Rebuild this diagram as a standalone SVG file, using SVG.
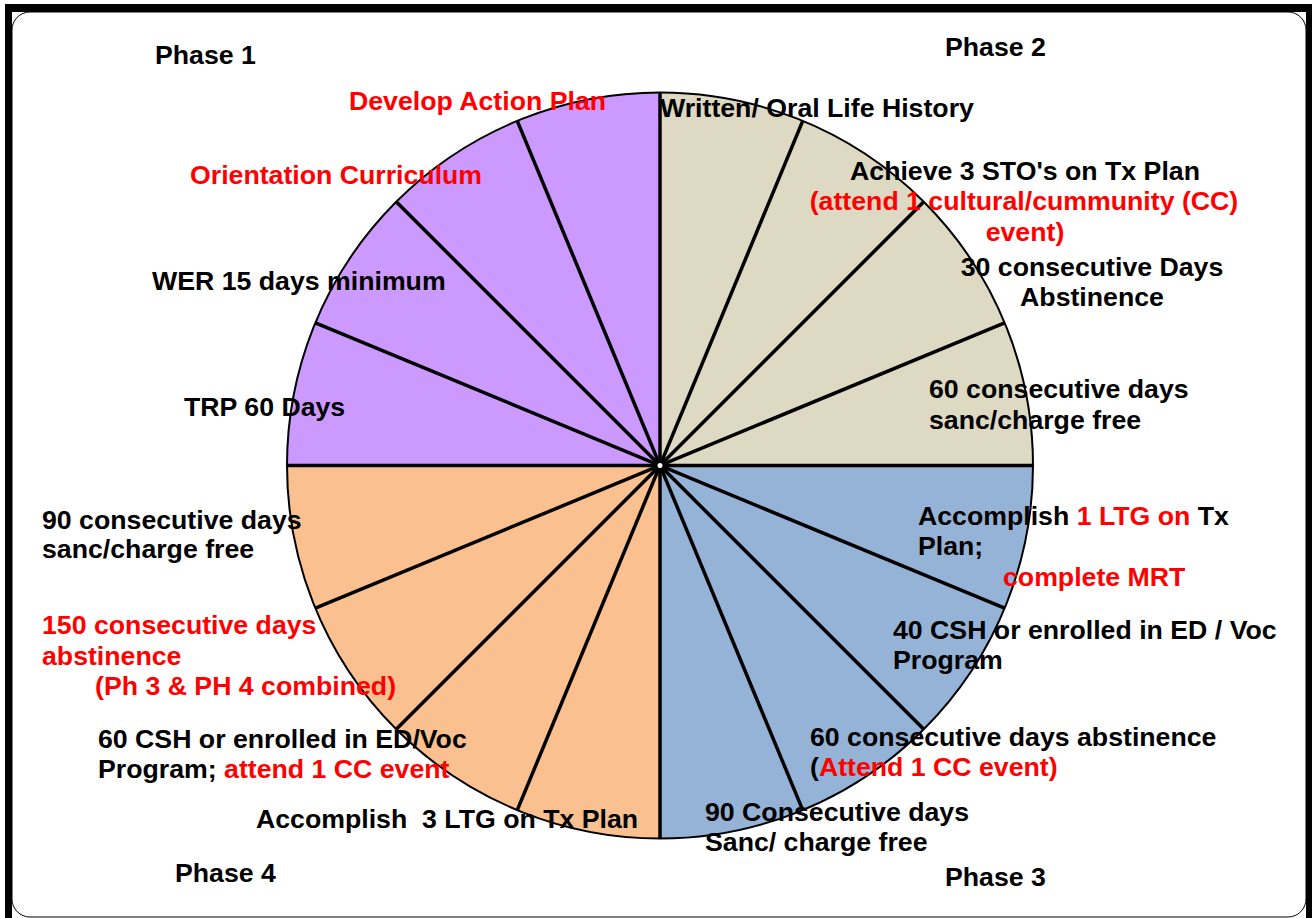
<svg xmlns="http://www.w3.org/2000/svg" width="1312" height="918" viewBox="0 0 1312 918">
<style>
.t{font-family:"Liberation Sans",Arial,sans-serif;font-weight:bold;font-size:26.7px;fill:#000;white-space:pre}
.r{fill:#FF0000}
.m{text-anchor:middle}
.div{stroke:#000;stroke-width:3.5;fill:none;stroke-linecap:butt}
</style>
<rect width="1312" height="918" fill="#fff"/>
<g id="frame">
<rect x="12" y="12" width="1294" height="905" rx="18" ry="18" fill="#fff" stroke="#000" stroke-width="1"/>
<rect x="5" y="4" width="1307" height="8" fill="#000"/>
<rect x="5" y="4" width="7" height="914" fill="#000"/>
<rect x="1306" y="4" width="6" height="914" fill="#000"/>
</g>
<g id="sectors">
<path id="phase2-sector" d="M660,465.5 L1033,465.5 A373,373 0 0 0 660,92.5 Z" fill="#DDD9C3"/>
<path id="phase1-sector" d="M660,465.5 L660,92.5 A373,373 0 0 0 287,465.5 Z" fill="#CC99FF"/>
<path id="phase4-sector" d="M660,465.5 L287,465.5 A373,373 0 0 0 660,838.5 Z" fill="#FAC090"/>
<path id="phase3-sector" d="M660,465.5 L660,838.5 A373,373 0 0 0 1033,465.5 Z" fill="#95B3D7"/>
<circle cx="660" cy="465.5" r="373" fill="none" stroke="#000" stroke-width="2"/>
</g>
<g id="connectors" class="div">
<line x1="287" y1="465.5" x2="1033" y2="465.5"/>
<line x1="1004.61" y1="322.76" x2="315.39" y2="608.24"/>
<line x1="923.75" y1="201.75" x2="396.25" y2="729.25"/>
<line x1="802.74" y1="120.89" x2="517.26" y2="810.11"/>
<line x1="660" y1="92.5" x2="660" y2="838.5"/>
<line x1="517.26" y1="120.89" x2="802.74" y2="810.11"/>
<line x1="396.25" y1="201.75" x2="923.75" y2="729.25"/>
<line x1="315.39" y1="322.76" x2="1004.61" y2="608.24"/>
</g>
<g id="hub">
<circle cx="660" cy="465.5" r="5.5" fill="#000"/>
<circle cx="660" cy="465.5" r="2.5" fill="#fff"/>
</g>
<g id="phase-labels">
<text class="t" x="155" y="64">Phase 1</text>
<text class="t" x="945" y="56">Phase 2</text>
<text class="t" x="945" y="886">Phase 3</text>
<text class="t" x="175" y="882">Phase 4</text>
</g>
<g id="phase1-labels">
<text class="t r" x="349" y="110">Develop Action Plan</text>
<text class="t r" x="190" y="184">Orientation Curriculum</text>
<text class="t" x="152" y="290">WER 15 days minimum</text>
<text class="t" x="184" y="416">TRP 60 Days</text>
</g>
<g id="phase2-labels">
<text class="t" x="660" y="117">Written/ Oral Life History</text>
<text class="t m" x="1025" y="180">Achieve 3 STO's on Tx Plan</text>
<text class="t r m" x="1024" y="210">(attend 1 cultural/cummunity (CC)</text>
<text class="t r m" x="1025" y="241">event)</text>
<text class="t m" x="1092" y="276">30 consecutive Days</text>
<text class="t m" x="1092" y="306">Abstinence</text>
<text class="t" x="929" y="398">60 consecutive days</text>
<text class="t" x="929" y="429">sanc/charge free</text>
</g>
<g id="phase3-labels">
<text class="t" x="918" y="525">Accomplish <tspan class="r">1 LTG on</tspan> Tx</text>
<text class="t" x="918" y="555">Plan;</text>
<text class="t r" x="1003" y="586">complete MRT</text>
<text class="t" x="893" y="639">40 CSH or enrolled in ED / Voc</text>
<text class="t" x="893" y="669">Program</text>
<text class="t" x="810" y="746">60 consecutive days abstinence</text>
<text class="t" x="810" y="776">(<tspan class="r">Attend 1 CC event)</tspan></text>
<text class="t" x="705" y="821">90 Consecutive days</text>
<text class="t" x="705" y="851">Sanc/ charge free</text>
</g>
<g id="phase4-labels">
<text class="t" x="42" y="529">90 consecutive days</text>
<text class="t" x="42" y="558">sanc/charge free</text>
<text class="t r" x="42" y="634">150 consecutive days</text>
<text class="t r" x="42" y="665">abstinence</text>
<text class="t r" x="95" y="695">(Ph 3 &amp; PH 4 combined)</text>
<text class="t" x="98" y="748">60 CSH or enrolled in ED/Voc</text>
<text class="t" x="98" y="778">Program; <tspan class="r">attend 1 CC event</tspan></text>
<text class="t" x="256" y="828">Accomplish  3 LTG on Tx Plan</text>
</g>
</svg>
